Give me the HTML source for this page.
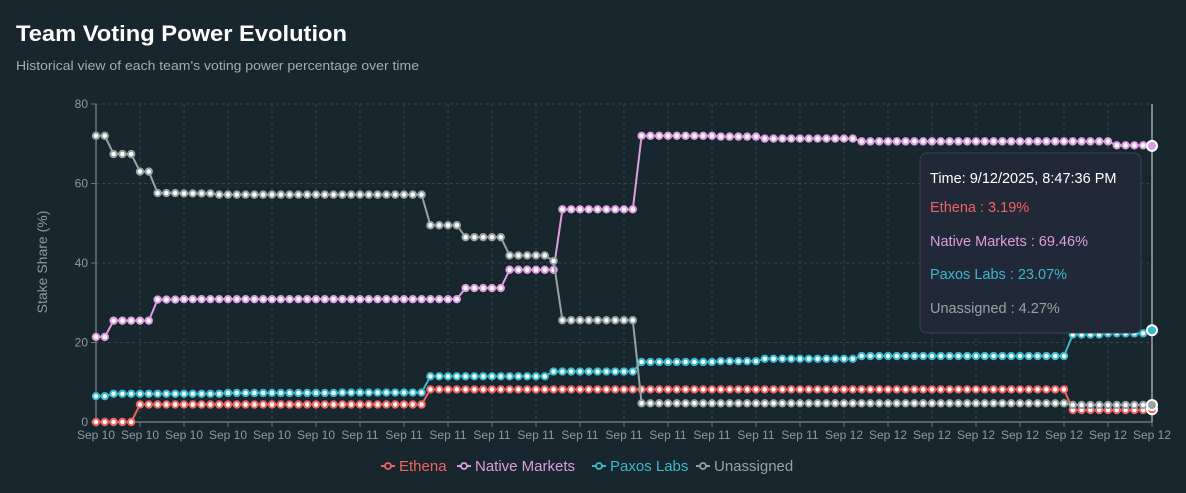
<!DOCTYPE html>
<html><head><meta charset="utf-8"><style>
html,body{margin:0;padding:0;background:#18262d;}
svg{display:block;font-family:"Liberation Sans",sans-serif;}
</style></head><body>
<svg id="chart" width="1186" height="493" viewBox="0 0 1186 493">
<rect width="1186" height="493" fill="#18262d"/>
<text x="16" y="41" fill="#ffffff" font-size="22" font-weight="bold" textLength="331" lengthAdjust="spacingAndGlyphs">Team Voting Power Evolution</text>
<text x="16" y="70" fill="#a3acb3" font-size="13" textLength="403" lengthAdjust="spacingAndGlyphs">Historical view of each team's voting power percentage over time</text>
<text transform="translate(47,262) rotate(-90)" text-anchor="middle" fill="#8f999e" font-size="14">Stake Share (%)</text>
<g id="grid"></g><g id="axes"></g><g id="series"></g><g id="tip"></g><g id="legend"></g>
</svg>
<script>
const NS='http://www.w3.org/2000/svg';
const xLabels=['Sep 10','Sep 10','Sep 10','Sep 10','Sep 10','Sep 10','Sep 11','Sep 11','Sep 11','Sep 11','Sep 11','Sep 11','Sep 11','Sep 11','Sep 11','Sep 11','Sep 11','Sep 12','Sep 12','Sep 12','Sep 12','Sep 12','Sep 12','Sep 12','Sep 12'];
const yTicks=[0,20,40,60,80];
const seriesNames=['Ethena','Native Markets','Paxos Labs','Unassigned'];
const seriesColors=['#f06363','#dc9ee0','#3ab8cc','#97a3a2'];
function runs(r){const a=[];r.forEach(([n,v])=>{for(let k=0;k<n;k++)a.push(v);});return a;}
const ethena=runs([[5,0],[33,4.4],[73,8.2],[9,3.0],[1,3.19]]);
const native=runs([[2,21.4],[5,25.5],[3,30.8],[32,30.9],[5,33.7],[6,38.3],[9,53.5],[9,72.0],[5,71.8],[11,71.3],[29,70.6],[4,69.6],[1,69.46]]);
const paxos=runs([[2,6.5],[13,7.1],[13,7.3],[10,7.4],[14,11.5],[10,12.7],[9,15.1],[5,15.3],[11,15.9],[24,16.6],[4,22.0],[5,22.3],[1,23.07]]);
const unassigned=runs([[2,72.0],[3,67.4],[2,63.0],[3,57.6],[4,57.5],[24,57.2],[4,49.5],[5,46.5],[5,41.9],[1,40.5],[9,25.6],[49,4.7],[9,4.3],[1,4.27]]);
const seriesData=[ethena,native,paxos,unassigned];
const X0=96,X1=1152,Y0=422,Y1=104,N=ethena.length;
const xs=i=>X0+i*(X1-X0)/(N-1);
const ys=v=>Y0-v*(Y0-Y1)/80;
function mk(tag,attrs,parent){const e=document.createElementNS(NS,tag);for(const k in attrs)e.setAttribute(k,attrs[k]);parent.appendChild(e);return e;}
const grid=document.getElementById('grid'),axes=document.getElementById('axes'),ser=document.getElementById('series');
yTicks.forEach(t=>{
  if(t>0){const l=mk('line',{x1:X0,x2:X1,y1:ys(t),y2:ys(t),stroke:'#34444c','stroke-dasharray':'3,3'},grid);
  
  }
  const tk=mk('line',{x1:X0-5,x2:X0,y1:ys(t),y2:ys(t),stroke:'#6b777d'},axes);
  
  
  const tx=mk('text',{x:X0-8,y:ys(t)+4,'text-anchor':'end',fill:'#8f999e','font-size':12},axes);
  tx.textContent=t;
  
  
});
xLabels.forEach((lab,j)=>{
  const x=xs(j*5);
  if(j>0&&j<xLabels.length-1){const g=mk('line',{x1:x,x2:x,y1:Y1,y2:Y0,stroke:'#34444c','stroke-dasharray':'3,3'},grid);
  
  }
  const tk=mk('line',{x1:x,x2:x,y1:Y0,y2:Y0+5,stroke:'#6b777d'},axes);
  
  
  const tx=mk('text',{x:x,y:Y0+17,'text-anchor':'middle',fill:'#8f999e','font-size':12},axes);
  tx.textContent=lab;
  
  
});
const ya=mk('line',{x1:X0,x2:X0,y1:Y1,y2:Y0,stroke:'#6b777d','stroke-width':1.5},axes);


const xa=mk('line',{x1:X0,x2:X1,y1:Y0,y2:Y0,stroke:'#6b777d','stroke-width':1.5},axes);


const cl=mk('line',{x1:X1,x2:X1,y1:Y1,y2:Y0,stroke:'#9aa3a8','stroke-width':1.5},axes);


seriesData.forEach((d,s)=>{
  const g=mk('g',{},ser);
  
  
  const p=mk('polyline',{points:d.map((v,i)=>xs(i)+','+ys(v)).join(' '),fill:'none',stroke:seriesColors[s],'stroke-width':2},g);
  
  
  d.forEach((v,i)=>{
    const last=i===N-1;
    const c=mk('circle',{cx:xs(i),cy:ys(v),r:last?5:3.2,fill:last?seriesColors[s]:'#ffffff',stroke:last?'#ffffff':seriesColors[s],'stroke-width':2},g);
    
    
  });
});
const tip=document.getElementById('tip');
const tb=mk('rect',{x:920,y:153,width:221,height:180,rx:7,fill:'#212838',stroke:'#394351'},tip);


const tipLines=[['Time: 9/12/2025, 8:47:36 PM','#ffffff',183],['Ethena : 3.19%',seriesColors[0],212],['Native Markets : 69.46%',seriesColors[1],246],['Paxos Labs : 23.07%',seriesColors[2],279],['Unassigned : 4.27%',seriesColors[3],313]];
tipLines.forEach(([t,c,y])=>{const e=mk('text',{x:930,y:y,fill:c,'font-size':14.5},tip);e.textContent=t;
  
  });
const leg=document.getElementById('legend');
const legX=[381,457,592,696];
seriesNames.forEach((n,s)=>{
  const g=mk('g',{},leg);
  
  
  mk('line',{x1:legX[s],x2:legX[s]+14,y1:466,y2:466,stroke:seriesColors[s],'stroke-width':2},g);
  mk('circle',{cx:legX[s]+7,cy:466,r:3,fill:'#18262d',stroke:seriesColors[s],'stroke-width':1.8},g);
  const t=mk('text',{x:legX[s]+18,y:471,fill:seriesColors[s],'font-size':15},g);t.textContent=n;
});
</script>
</body></html>
